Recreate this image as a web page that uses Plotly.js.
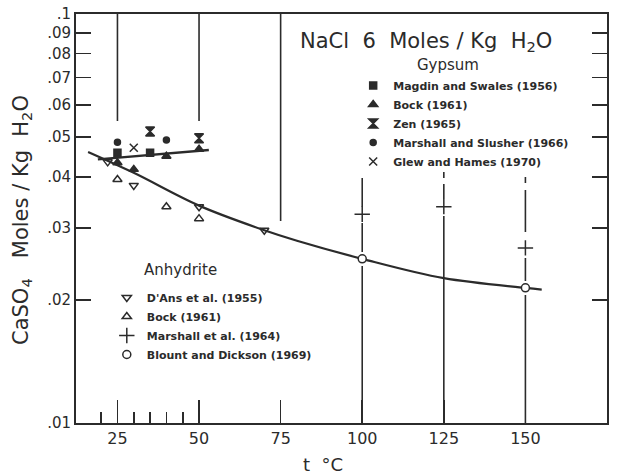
<!DOCTYPE html>
<html>
<head>
<meta charset="utf-8">
<script src="https://cdn.plot.ly/plotly-3.0.1.min.js"></script>
<style>html,body{margin:0;padding:0;background:#fff;}#chart{width:621px;height:475px;}</style>
</head>
<body>
<div id="chart"></div>
<script>
// ---- Data ----
// Gypsum
const magdinT = [25, 35];
const magdinS = [0.0458, 0.0458];
const bockGypT = [25, 30, 40, 50];
const bockGypS = [0.0433, 0.0417, 0.0449, 0.0467];
const zenT = [35, 50];
const zenS = [0.0516, 0.0497];
const marshallSlusherT = [25, 40];
const marshallSlusherS = [0.0486, 0.0492];
const glewT = [30];
const glewS = [0.0471];
// Anhydrite
const dansT = [22, 30, 50, 70];
const dansS = [0.0435, 0.0381, 0.0338, 0.0296];
const bockAnhT = [25, 40, 50];
const bockAnhS = [0.0394, 0.0338, 0.0316];
const marshallT = [100, 125, 150];
const marshallS = [0.0324, 0.0338, 0.0268];
const blountT = [100, 150];
const blountS = [0.0252, 0.0214];
// fitted curves
const gypFitT = [19, 53];
const gypFitS = [0.0441, 0.0465];
const anhFitT = [16, 30, 50, 70, 80, 100, 125, 150, 155];
const anhFitS = [0.046, 0.0409, 0.034, 0.0296, 0.0279, 0.0252, 0.0226, 0.0214, 0.0212];
// ticks
const yTickVals = [0.01, 0.02, 0.03, 0.04, 0.05, 0.06, 0.07, 0.08, 0.09, 0.1];
const yTickText = ['.01', '.02', '.03', '.04', '.05', '.06', '.07', '.08', '.09', '.1'];
const xTickVals = [25, 50, 75, 100, 125, 150, 175];
const xMinorVals = [20, 30, 35, 40, 45];

// ---- Styles ----
const INK = '#2b2b2b';
const FONT = 'DejaVu Sans, Liberation Sans, sans-serif';

function pts(x, y, name, symbol, size, legend, extra) {
  return Object.assign({
    type: 'scatter', mode: 'markers', x: x, y: y, name: name, legend: legend,
    marker: {symbol: symbol, size: size, color: INK, line: {color: INK, width: 1.5}},
    cliponaxis: false
  }, extra || {});
}

const traces = [
  {type: 'scatter', mode: 'lines', x: anhFitT, y: anhFitS, line: {color: INK, width: 2.2, shape: 'spline'}, showlegend: false, hoverinfo: 'skip'},
  {type: 'scatter', mode: 'lines', x: gypFitT, y: gypFitS, line: {color: INK, width: 2.4}, showlegend: false, hoverinfo: 'skip'},
  pts(magdinT, magdinS, 'Magdin and Swales (1956)', 'square', 7, 'legend'),
  pts(bockGypT, bockGypS, 'Bock (1961)', 'triangle-up', 8, 'legend'),
  pts(zenT, zenS, 'Zen (1965)', 'hourglass', 9, 'legend'),
  pts(marshallSlusherT, marshallSlusherS, 'Marshall and Slusher (1966)', 'circle', 6, 'legend'),
  pts(glewT, glewS, 'Glew and Hames (1970)', 'x-thin-open', 8, 'legend'),
  pts(dansT, dansS, "D'Ans et al. (1955)", 'triangle-down-open', 8, 'legend2'),
  pts(bockAnhT, bockAnhS, 'Bock (1961)', 'triangle-up-open', 8, 'legend2'),
  pts(marshallT, marshallS, 'Marshall et al. (1964)', 'cross-thin-open', 11, 'legend2'),
  pts(blountT, blountS, 'Blount and Dickson (1969)', 'circle', 8, 'legend2',
      {marker: {symbol: 'circle', size: 8, color: '#ffffff', line: {color: INK, width: 1.5}}})
];

// plot area in pixels: top 14, bottom 423
function pf(py) { return (423 - py) / 409; }
function vseg(x, pyTop, pyBot) {
  return {type: 'line', xref: 'x', yref: 'paper', x0: x, x1: x, y0: pf(pyBot), y1: pf(pyTop),
          line: {color: INK, width: 1.6}, layer: 'below'};
}
const shapes = [
  vseg(25, 14, 121), vseg(50, 14, 121), vseg(75, 14, 221),
  vseg(100, 178, 207), vseg(100, 223, 252), vseg(100, 266, 423),
  vseg(125, 172, 178), vseg(125, 184, 199), vseg(125, 216, 423),
  vseg(150, 177, 183), vseg(150, 190, 232), vseg(150, 258, 281), vseg(150, 295, 423)
];

const layout = {
  width: 621, height: 475,
  margin: {l: 76, r: 14, t: 14, b: 52},
  paper_bgcolor: '#ffffff', plot_bgcolor: '#ffffff',
  font: {family: FONT, color: INK},
  showlegend: true,
  xaxis: {
    range: [12.3, 175], showgrid: false, zeroline: false,
    showline: true, linecolor: INK, linewidth: 2, mirror: true,
    tickmode: 'array', tickvals: xTickVals, ticks: 'inside', ticklen: 23, tickwidth: 1.6, tickcolor: INK,
    minor: {tickmode: 'array', tickvals: xMinorVals, ticks: 'inside', ticklen: 11, tickwidth: 1.6, tickcolor: INK, showgrid: false},
    tickfont: {family: FONT, size: 16, color: INK}
  },
  yaxis: {
    type: 'log', range: [-2, -1], showgrid: false, zeroline: false,
    showline: true, linecolor: INK, linewidth: 2, mirror: 'ticks',
    tickmode: 'array', tickvals: yTickVals, ticktext: yTickText,
    ticks: 'inside', ticklen: 15, tickwidth: 1.6, tickcolor: INK,
    tickfont: {family: FONT, size: 15, color: INK}
  },
  legend: {
    x: 0.522, y: 0.8606, xanchor: 'left', yanchor: 'top',
    bgcolor: 'rgba(0,0,0,0)', borderwidth: 0,
    font: {family: FONT, size: 11, color: INK, weight: 'bold'}
  },
  legend2: {
    x: 0.058, y: 0.3423, xanchor: 'left', yanchor: 'top',
    bgcolor: 'rgba(0,0,0,0)', borderwidth: 0,
    font: {family: FONT, size: 11, color: INK, weight: 'bold'}
  },
  shapes: shapes,
  annotations: [
    {text: 'NaCl  6  Moles / Kg  H<sub>2</sub>O', xref: 'paper', yref: 'paper', x: 0.659, y: pf(42),
     xanchor: 'center', yanchor: 'middle', showarrow: false, font: {family: FONT, size: 21, color: INK}},
    {text: 'Gypsum', xref: 'paper', yref: 'paper', x: 0.7006, y: pf(65),
     xanchor: 'center', yanchor: 'middle', showarrow: false, font: {family: FONT, size: 15, color: INK}},
    {text: 'Anhydrite', xref: 'paper', yref: 'paper', x: 0.196, y: pf(270),
     xanchor: 'center', yanchor: 'middle', showarrow: false, font: {family: FONT, size: 15, color: INK}},
    {text: 't  °C', xref: 'paper', yref: 'paper', x: (323 - 76) / 531, y: pf(465),
     xanchor: 'center', yanchor: 'middle', showarrow: false, font: {family: FONT, size: 18, color: INK}},
    {text: 'CaSO<sub>4</sub>   Moles / Kg  H<sub>2</sub>O', xref: 'paper', yref: 'paper', x: (22 - 76) / 531, y: pf(220),
     xanchor: 'center', yanchor: 'middle', textangle: -90, showarrow: false, font: {family: FONT, size: 21, color: INK}}
  ]
};

Plotly.newPlot('chart', traces, layout, {displayModeBar: false, staticPlot: true});
</script>
</body>
</html>
